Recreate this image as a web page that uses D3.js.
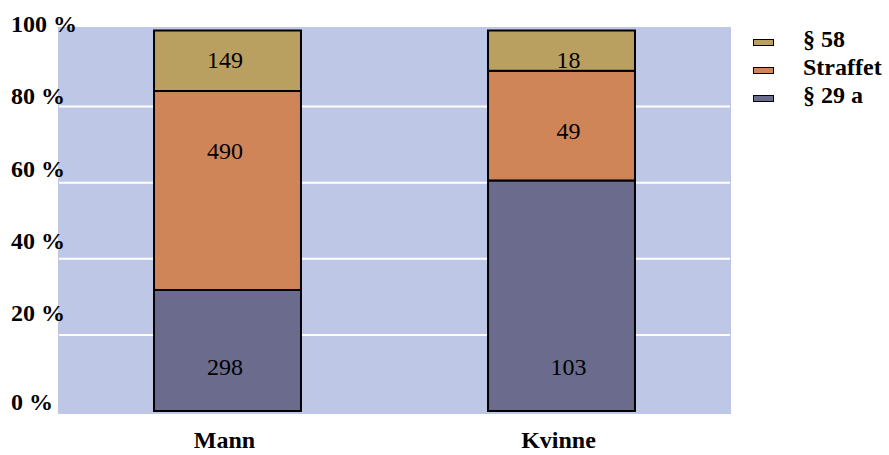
<!DOCTYPE html>
<html>
<head>
<meta charset="utf-8">
<script src="https://cdn.jsdelivr.net/npm/d3@7"></script>
<style>
  html, body { margin: 0; padding: 0; background: #fff; }
  #chart text { font-family: 'Liberation Serif', 'Tinos', 'Nimbus Roman', 'Times New Roman', 'FreeSerif' !important; }
</style>
</head>
<body>
<svg id="chart" width="889" height="455"></svg>
<script>
// Categories and counts per measure (stacked to 100 %)
const categories = ["Mann", "Kvinne"];
const seriesNames = ["§ 29 a", "Straffet", "§ 58"];
const paragraf29a = [298, 103];
const straffet = [490, 49];
const paragraf58 = [149, 18];
const tickValues = [0, 20, 40, 60, 80, 100];
const tickLabels = ["0 %", "20 %", "40 %", "60 %", "80 %", "100 %"];
const legendOrder = ["§ 58", "Straffet", "§ 29 a"];

const colors = {
  "§ 29 a": "#6a6b8d",
  "Straffet": "#d08558",
  "§ 58": "#b9a060"
};

const rows = categories.map((c, i) => ({
  cat: c,
  "§ 29 a": paragraf29a[i],
  "Straffet": straffet[i],
  "§ 58": paragraf58[i]
}));

const svg = d3.select("#chart");

// Shared text styling
function serifText(sel, size, bold) {
  return sel
    .style("font-family", "'Liberation Serif', 'Tinos', 'Nimbus Roman', 'Times New Roman'")
    .style("font-size", size + "px")
    .style("font-weight", bold ? "bold" : "normal")
    .attr("fill", "#000");
}

const plot = { left: 58, right: 731, top: 27, bottom: 414 };

const x = d3.scaleBand()
  .domain(categories)
  .range([60.5, 728.5])
  .paddingInner(0.56)
  .paddingOuter(0.28);

const y = d3.scaleLinear().domain([0, 100]).range([411, 30.5]);

// Plot background
svg.append("rect")
  .attr("x", plot.left).attr("y", plot.top)
  .attr("width", plot.right - plot.left)
  .attr("height", plot.bottom - plot.top)
  .attr("fill", "#bec7e6");

// Gridlines
svg.append("g")
  .selectAll("line")
  .data(tickValues.filter(v => v > 0 && v < 100))
  .join("line")
  .attr("x1", plot.left + 1).attr("x2", plot.right - 1)
  .attr("y1", d => y(d)).attr("y2", d => y(d))
  .attr("stroke", "#ffffff").attr("stroke-width", 2);

// Y tick labels (left aligned, own vertical spacing)
const labelY = d3.scaleLinear().domain([0, 20, 100]).range([410, 321, 32]);
svg.append("g")
  .selectAll("text")
  .data(tickValues)
  .join("text")
  .attr("x", 11)
  .attr("y", d => labelY(d))
  .call(serifText, 24, true)
  .text((d, i) => tickLabels[i]);

// Stacked percentage bars
const stack = d3.stack()
  .keys(seriesNames)
  .offset(d3.stackOffsetExpand);
const layers = stack(rows);

const barGroup = svg.append("g");
layers.forEach(layer => {
  barGroup.append("g")
    .selectAll("rect")
    .data(layer)
    .join("rect")
    .attr("x", d => x(d.data.cat))
    .attr("width", x.bandwidth())
    .attr("y", d => y(d[1] * 100))
    .attr("height", d => y(d[0] * 100) - y(d[1] * 100))
    .attr("fill", colors[layer.key])
    .attr("stroke", "#000")
    .attr("stroke-width", 2);
});

// Value labels inside segments
const labelShift = { "Mann": -2.5, "Kvinne": 7 };
const labelAnchor = {
  "§ 29 a": d => y(d[0] * 100) - 36,
  "Straffet": d => y(d[1] * 100) + 68,
  "§ 58": d => y(d[1] * 100) + 37
};
layers.forEach(layer => {
  barGroup.append("g")
    .selectAll("text")
    .data(layer)
    .join("text")
    .attr("x", d => x(d.data.cat) + x.bandwidth() / 2 + labelShift[d.data.cat])
    .attr("y", labelAnchor[layer.key])
    .attr("text-anchor", "middle")
    .call(serifText, 24, false)
    .text(d => d.data[layer.key]);
});

// Category labels
svg.append("g")
  .selectAll("text")
  .data(categories)
  .join("text")
  .attr("x", d => x(d) + x.bandwidth() / 2 - 3)
  .attr("y", 448)
  .attr("text-anchor", "middle")
  .call(serifText, 24, true)
  .text(d => d);

// Legend
const legend = svg.append("g")
  .selectAll("g")
  .data(legendOrder)
  .join("g")
  .attr("transform", (d, i) => `translate(753, ${39 + i * 28})`);
legend.append("rect")
  .attr("x", 0.5).attr("y", 0.5)
  .attr("width", 20).attr("height", 6)
  .attr("fill", d => colors[d])
  .attr("stroke", "#000").attr("stroke-width", 1);
legend.append("text")
  .attr("x", 50)
  .attr("y", 7.5)
  .call(serifText, 24, true)
  .text(d => d);
</script>
</body>
</html>
